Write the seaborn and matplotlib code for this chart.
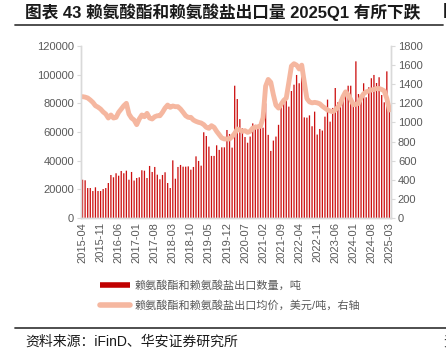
import numpy as np
import pandas as pd
import matplotlib
matplotlib.use("Agg")
import matplotlib.pyplot as plt
from matplotlib.lines import Line2D
import seaborn as sns

# monthly data 2015-04 .. 2025-03
months = pd.period_range("2015-04", "2025-03", freq="M").strftime("%Y-%m").tolist()

volume = [26.7, 26.3, 20.9, 20.9, 18.8, 21.4, 18.8, 18.8, 20.2, 20.9,
          24.4, 30.0, 28.4, 31.2, 29.5, 32.8, 31.2, 33.0, 26.7, 32.1,
          26.1, 27.9, 28.4, 33.3, 33.0, 27.9, 36.3, 32.1, 35.6, 30.2,
          27.0, 30.0, 31.9, 24.4, 20.9, 40.2, 27.4, 35.6, 37.0, 35.8,
          35.8, 36.0, 33.7, 35.6, 43.0, 39.8, 36.5, 59.8, 57.2, 49.8,
          43.3, 43.3, 50.7, 47.5, 49.3, 49.3, 61.4, 58.6, 49.1, 92.3,
          83.0, 69.0, 62.5, 56.5, 52.5, 56.8, 66.0, 65.0, 62.6, 65.6,
          63.0, 80.0, 58.0, 46.8, 54.0, 56.8, 65.0, 78.0, 80.0, 82.8,
          77.7, 88.6, 93.0, 99.8, 94.0, 100.4, 70.2, 70.0, 71.6, 64.0,
          74.2, 58.2, 62.1, 61.0, 70.7, 82.6, 67.2, 76.8, 90.7, 80.7,
          83.0, 86.5, 87.7, 92.3, 92.3, 78.4, 109.3, 86.5, 85.4, 94.0,
          84.2, 91.2, 97.5, 99.8, 94.2, 98.2, 85.8, 80.7, 102.3, 80.0]
volume = [v * 1000 for v in volume]

price = [1270, 1265, 1256, 1235, 1210, 1175, 1160, 1140, 1110, 1088,
         1046, 1078, 1046, 1053, 1106, 1140, 1175, 1200, 1088, 1046,
         1025, 977, 1036, 1078, 1060, 1095, 1046, 1036, 1060, 1070,
         1070, 1106, 1151, 1182, 1158, 1172, 1165, 1165, 1140, 1106,
         1070, 1053, 1053, 1025, 1011, 1001, 994, 977, 949, 938,
         966, 949, 907, 872, 837, 827, 827, 827, 851, 886,
         931, 921, 907, 914, 896, 907, 942, 949, 955, 960,
         1050, 1380, 1450, 1420, 1290, 1180, 1150, 1190, 1230, 1255,
         1420, 1590, 1615, 1600, 1560, 1600, 1420, 1250, 1215, 1205,
         1210, 1205, 1195, 1170, 1150, 1130, 1120, 1113, 1130, 1160,
         1200, 1270, 1320, 1290, 1240, 1185, 1190, 1200, 1260, 1300,
         1320, 1330, 1340, 1345, 1355, 1355, 1345, 1330, 1250, 1130]

label_vol = "赖氨酸酯和赖氨酸盐出口数量，吨"
label_price = "赖氨酸酯和赖氨酸盐出口均价，美元/吨，右轴"

df = pd.DataFrame({"pos": range(len(months)), "month": months,
                   "volume": volume, "price": price})

sns.set_style("white")
plt.rcParams["font.family"] = ["Liberation Sans", "Noto Sans CJK SC"]

bar_color = "#C00000"
line_color = "#F5B7A0"
grey = "#595959"
spine_c = "#D9D9D9"

fig = plt.figure(figsize=(4.46, 3.55), dpi=100)
ax = fig.add_axes([0.1816, 0.386, 0.695, 0.4844])

sns.barplot(data=df, x="pos", y="volume", color="#CC1010", width=0.5,
            saturation=1, linewidth=0, ax=ax)
# thin bars: no pixel snapping so none vanish
for p in ax.patches:
    p.set_snap(False)
ax.set_ylim(0, 120000)
ax.set_yticks(range(0, 120001, 20000))
ax.set_xlim(-0.6, len(months) - 0.4)
ticks = list(range(0, len(months), 7))
ax.set_xticks(ticks)
ax.set_xticklabels([months[i] for i in ticks], rotation=90)
ax.set_xlabel("")
ax.set_ylabel("")

ax2 = ax.twinx()
sns.lineplot(data=df, x="pos", y="price", color=line_color, lw=3.5,
             solid_capstyle="round", ax=ax2)
ax2.set_ylim(0, 1800)
ax2.set_yticks(range(0, 1801, 200))
ax2.set_ylabel("")
ax2.set_xlim(-0.6, len(months) - 0.4)

for a in (ax, ax2):
    for s in ("left", "right", "bottom"):
        a.spines[s].set_color(spine_c)
        a.spines[s].set_linewidth(1)
    a.spines["top"].set_visible(False)
ax.tick_params(axis="y", colors=grey, labelsize=8, length=3, width=0.8,
               color=spine_c, pad=2, left=True)
ax.tick_params(axis="x", colors=grey, labelsize=8, length=0, pad=3)
ax2.tick_params(axis="y", colors=grey, labelsize=8, length=3, width=0.8,
                color=spine_c, pad=2, right=True)

handles = [Line2D([0], [0], color=bar_color, lw=4, solid_capstyle="butt"),
           Line2D([0], [0], color=line_color, lw=4, solid_capstyle="round")]
leg = fig.legend(handles, [label_vol, label_price], loc="upper left",
                 bbox_to_anchor=(0.224, 0.21), frameon=False, borderpad=0,
                 borderaxespad=0, fontsize=8, handlelength=2.7,
                 handletextpad=0.45, labelspacing=0.85)
for t in leg.get_texts():
    t.set_color(grey)

fig.text(0.056, 0.966, "图表 43 赖氨酸酯和赖氨酸盐出口量 2025Q1 有所下跌",
         fontsize=12, fontweight="bold", va="center", color="#1a1a1a")
fig.text(0.993, 0.966, "图", fontsize=12, fontweight="bold", va="center",
         color="#1a1a1a")
fig.add_artist(Line2D([0.034, 0.993], [0.929, 0.929], color="#404040", lw=1.3,
                      transform=fig.transFigure))
fig.add_artist(Line2D([0.034, 1.0], [0.076, 0.076], color="#404040", lw=1.3,
                      transform=fig.transFigure))
fig.text(0.056, 0.037, "资料来源：iFinD、华安证券研究所", fontsize=10,
         va="center", color="#1a1a1a")
fig.text(0.995, 0.037, "资", fontsize=10, va="center", color="#1a1a1a")

fig.savefig("out.png", dpi=100)
